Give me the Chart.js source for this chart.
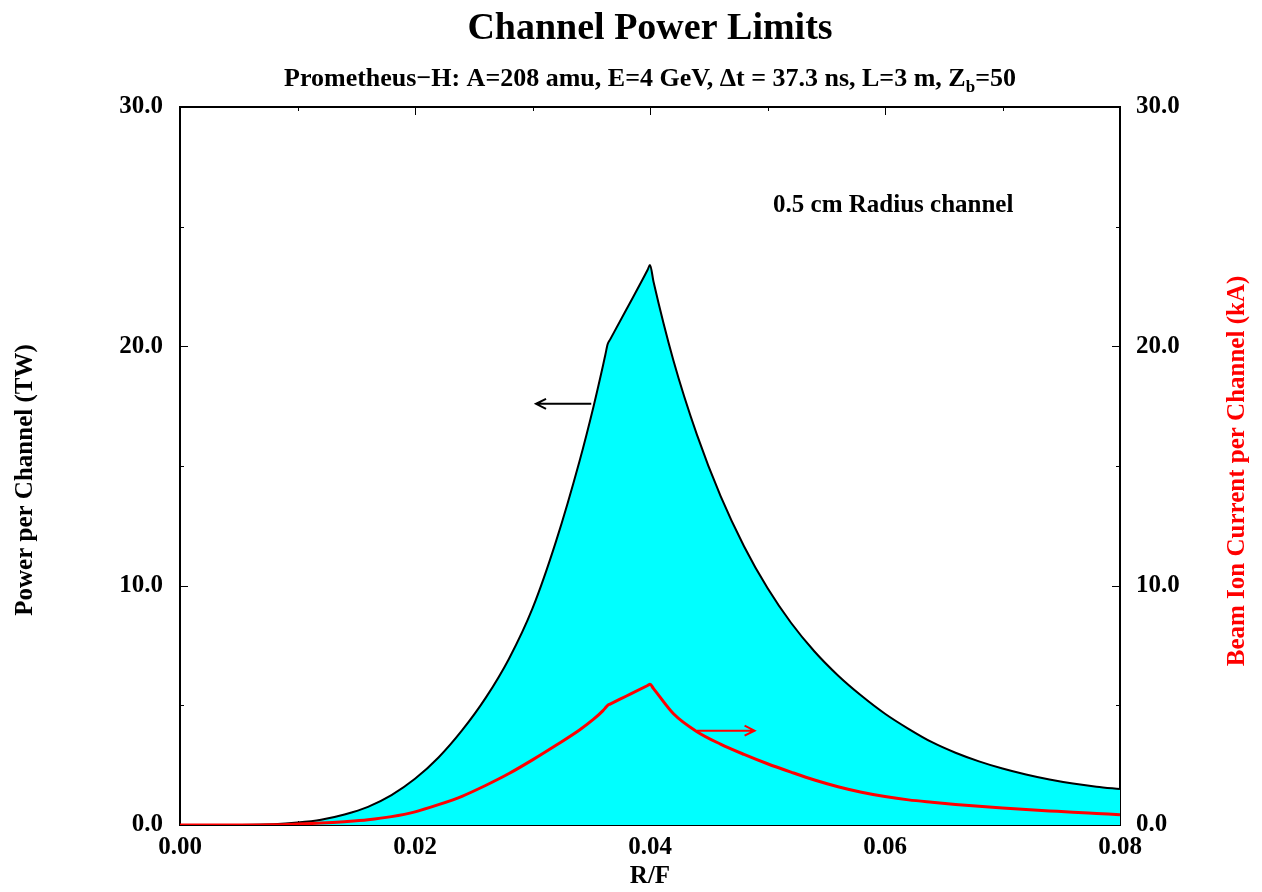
<!DOCTYPE html>
<html>
<head>
<meta charset="utf-8">
<title>Channel Power Limits</title>
<script src="https://cdn.jsdelivr.net/npm/chart.js@4.4.1/dist/chart.umd.min.js"></script>
<style>
  html, body { margin: 0; padding: 0; background: #fff; }
  #wrap { width: 1262px; height: 892px; position: relative; }
</style>
</head>
<body>
<div id="wrap"><canvas id="chart"></canvas></div>
<script>
// R/F values (x), shared by both curves
const rf = [0, 0.004, 0.008, 0.010, 0.012, 0.014, 0.016, 0.018, 0.020, 0.022,
  0.024, 0.026, 0.028, 0.030, 0.032, 0.034, 0.0352, 0.0360, 0.0362, 0.0364,
  0.0366, 0.0380, 0.0398, 0.0400, 0.0403, 0.042, 0.044, 0.046, 0.048, 0.050,
  0.052, 0.054, 0.056, 0.058, 0.060, 0.062, 0.064, 0.066, 0.068, 0.070,
  0.072, 0.074, 0.076, 0.078, 0.080];
// power per channel (TW), left axis
const power = [0, 0, 0.03, 0.10, 0.22, 0.44, 0.76, 1.25, 1.93, 2.82,
  3.95, 5.30, 6.95, 9.05, 11.85, 15.2, 17.5, 19.2, 19.65, 20.1,
  20.28, 21.55, 23.2, 23.4, 22.7, 19.4, 16.3, 13.75, 11.65, 9.9,
  8.45, 7.25, 6.25, 5.4, 4.65, 4.02, 3.46, 3.02, 2.66, 2.36,
  2.11, 1.90, 1.73, 1.60, 1.50];
// beam ion current per channel (kA), right axis
const current = [0, 0, 0.01, 0.04, 0.08, 0.14, 0.22, 0.35, 0.55, 0.85,
  1.2, 1.65, 2.15, 2.72, 3.33, 3.97, 4.42, 4.78, 4.89, 5.0,
  5.05, 5.39, 5.83, 5.88, 5.70, 4.65, 3.90, 3.38, 2.95, 2.56,
  2.21, 1.88, 1.60, 1.37, 1.19, 1.05, 0.95, 0.86, 0.78, 0.71,
  0.65, 0.59, 0.53, 0.48, 0.43];

const xTicks = [0, 0.02, 0.04, 0.06, 0.08];
const yTicks = [0, 10, 20, 30];

// arrows: [x from, x to, y]
const powerArrow = [0.0350, 0.0303, 17.6];
const currentArrow = [0.0440, 0.0489, 3.94];
const note = { text: '0.5 cm Radius channel', x: 0.0607, y: 25.9 };

const serif = '"Liberation Serif", "Times New Roman", serif';

function arrow(ctx, x1, y1, x2, y2, color, w) {
  ctx.save();
  ctx.strokeStyle = color;
  ctx.lineWidth = w;
  ctx.beginPath();
  ctx.moveTo(x1, y1);
  ctx.lineTo(x2, y2);
  const dir = x2 > x1 ? -1 : 1;
  ctx.moveTo(x2 + dir * 10, y2 - 5);
  ctx.lineTo(x2, y2);
  ctx.lineTo(x2 + dir * 10, y2 + 5);
  ctx.stroke();
  ctx.restore();
}

const framePlugin = {
  id: 'frame',
  beforeDatasetsDraw(chart) {
    const { ctx, chartArea: a, scales } = chart;
    ctx.save();
    ctx.strokeStyle = '#000';
    ctx.lineWidth = 2;
    ctx.strokeRect(a.left, a.top, a.right - a.left, a.bottom - a.top);
    ctx.lineWidth = 1;
    ctx.beginPath();
    // inward ticks, majors longer than minors
    for (let v = 0; v <= 0.0801; v += 0.01) {
      const px = Math.round(scales.x.getPixelForValue(v)) + 0.5;
      const len = Math.round(v * 100) % 2 === 0 ? 8 : 4;
      ctx.moveTo(px, a.bottom); ctx.lineTo(px, a.bottom - len);
      ctx.moveTo(px, a.top); ctx.lineTo(px, a.top + len);
    }
    for (let v = 0; v <= 30; v += 5) {
      const py = Math.round(scales.y.getPixelForValue(v)) + 0.5;
      const len = v % 10 === 0 ? 8 : 4;
      ctx.moveTo(a.left, py); ctx.lineTo(a.left + len, py);
      ctx.moveTo(a.right, py); ctx.lineTo(a.right - len, py);
    }
    ctx.stroke();
    ctx.restore();
  },
  afterDatasetsDraw(chart) {
    const { ctx, scales } = chart;
    const x = scales.x, y = scales.y;
    arrow(ctx, x.getPixelForValue(powerArrow[0]), y.getPixelForValue(powerArrow[2]),
      x.getPixelForValue(powerArrow[1]), y.getPixelForValue(powerArrow[2]), '#000', 2);
    arrow(ctx, x.getPixelForValue(currentArrow[0]), scales.y2.getPixelForValue(currentArrow[2]),
      x.getPixelForValue(currentArrow[1]), scales.y2.getPixelForValue(currentArrow[2]), '#ff0000', 2);
    ctx.save();
    ctx.fillStyle = '#000';
    ctx.font = 'bold 25px ' + serif;
    ctx.textAlign = 'center';
    ctx.textBaseline = 'middle';
    ctx.fillText(note.text, x.getPixelForValue(note.x), y.getPixelForValue(note.y));
    ctx.restore();
  },
  afterDraw(chart) {
    const { ctx, chartArea: a } = chart;
    const cx = (a.left + a.right) / 2;
    ctx.save();
    ctx.fillStyle = '#000';
    ctx.textBaseline = 'alphabetic';
    ctx.textAlign = 'center';
    ctx.font = 'bold 38px ' + serif;
    ctx.fillText('Channel Power Limits', cx, 39);

    // subtitle with subscript b
    const s1 = 'Prometheus\u2212H: A=208 amu, E=4 GeV, \u0394t = 37.3 ns, L=3 m, Z';
    const s2 = 'b';
    const s3 = '=50';
    const big = 'bold 26px ' + serif, small = 'bold 17px ' + serif;
    ctx.font = big; const w1 = ctx.measureText(s1).width, w3 = ctx.measureText(s3).width;
    ctx.font = small; const w2 = ctx.measureText(s2).width;
    let sx = cx - (w1 + w2 + w3) / 2;
    ctx.textAlign = 'left';
    ctx.font = big; ctx.fillText(s1, sx, 86); sx += w1;
    ctx.font = small; ctx.fillText(s2, sx, 92); sx += w2;
    ctx.font = big; ctx.fillText(s3, sx, 86);

    // axis titles
    ctx.textAlign = 'center';
    ctx.textBaseline = 'middle';
    ctx.font = 'bold 25px ' + serif;
    ctx.fillText('R/F', cx, 877);
    ctx.save();
    ctx.translate(26, 480);
    ctx.rotate(-Math.PI / 2);
    ctx.fillText('Power per Channel (TW)', 0, 0);
    ctx.restore();
    ctx.save();
    ctx.fillStyle = '#ff0000';
    ctx.translate(1238, 471);
    ctx.rotate(-Math.PI / 2);
    ctx.fillText('Beam Ion Current per Channel (kA)', 0, 0);
    ctx.restore();
    ctx.restore();
  }
};

const tickFont = { family: serif, size: 25, weight: 'bold' };

function chartIt() {
  const ctx = document.getElementById('chart').getContext('2d');
  const myChart = new Chart(ctx, {
    type: 'line',
    data: {
      datasets: [{
        label: 'Beam Ion Current (kA)',
        data: rf.map((v, i) => ({ x: v, y: current[i] })),
        yAxisID: 'y2',
        borderColor: '#ff0000',
        borderWidth: 3,
        pointRadius: 0,
        fill: false,
        cubicInterpolationMode: 'monotone',
        order: 0
      }, {
        label: 'Power (TW)',
        data: rf.map((v, i) => ({ x: v, y: power[i] })),
        yAxisID: 'y',
        borderColor: '#000000',
        borderWidth: 2,
        backgroundColor: '#00ffff',
        pointRadius: 0,
        fill: 'origin',
        cubicInterpolationMode: 'monotone',
        order: 1
      }]
    },
    options: {
      responsive: true,
      maintainAspectRatio: false,
      animation: false,
      layout: { padding: { top: 107, left: 0, right: 0, bottom: 0 } },
      plugins: { legend: { display: false }, tooltip: { enabled: false } },
      scales: {
        x: {
          type: 'linear', min: 0, max: 0.08,
          grid: { display: false, drawTicks: false },
          border: { display: false },
          afterBuildTicks: s => { s.ticks = xTicks.map(v => ({ value: v })); },
          afterFit: s => { s.height = 67; },
          ticks: { font: tickFont, color: '#000', padding: 8, maxRotation: 0,
            callback: v => v.toFixed(2) }
        },
        y: {
          position: 'left', min: 0, max: 30,
          grid: { display: false, drawTicks: false },
          border: { display: false },
          afterBuildTicks: s => { s.ticks = yTicks.map(v => ({ value: v })); },
          afterFit: s => { s.width = 180; },
          ticks: { font: tickFont, color: '#000', padding: 17, callback: v => v.toFixed(1) }
        },
        y2: {
          position: 'right', min: 0, max: 30,
          grid: { display: false, drawTicks: false },
          border: { display: false },
          afterBuildTicks: s => { s.ticks = yTicks.map(v => ({ value: v })); },
          afterFit: s => { s.width = 142; },
          ticks: { font: tickFont, color: '#000', padding: 16, callback: v => v.toFixed(1) }
        }
      }
    },
    plugins: [framePlugin]
  });
}

chartIt();
</script>
</body>
</html>
